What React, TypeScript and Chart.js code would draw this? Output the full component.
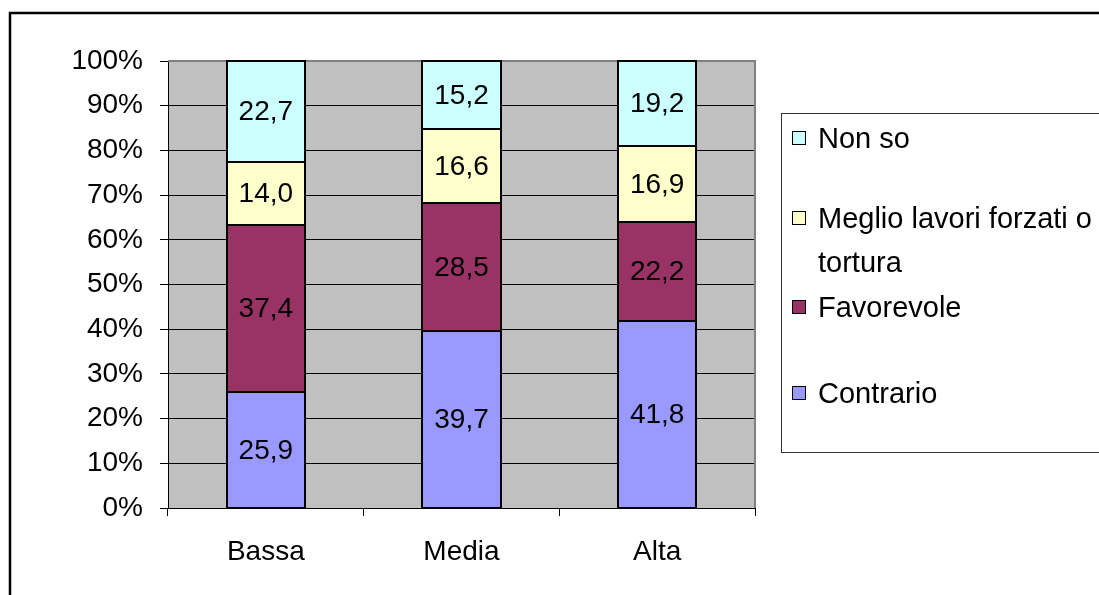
import React, { useEffect, useRef } from "react";
import { Chart, registerables } from "chart.js";

Chart.register(...registerables);

// Categories and series (percent shares per group)
const categories = ["Bassa", "Media", "Alta"];
const seriesLabels = ["Contrario", "Favorevole", "Meglio lavori forzati o tortura", "Non so"];
const contrario = [25.9, 39.7, 41.8];
const favorevole = [37.4, 28.5, 22.2];
const meglio = [14.0, 16.6, 16.9];
const nonSo = [22.7, 15.2, 19.2];
const seriesColors = ["#9999FF", "#993366", "#FFFFCC", "#CCFFFF"];
const yTicks = [0, 10, 20, 30, 40, 50, 60, 70, 80, 90, 100];

const FONT_FAMILY = '"Liberation Sans", Arial, sans-serif';
const FONT_SIZE = 28;
const LEGEND_FONT_SIZE = 29;

// Gray plot background with a gray frame on the top and right edges
const plotBackground = {
  id: "plotBackground",
  beforeDraw(chart: any) {
    const { ctx, chartArea: a } = chart;
    ctx.save();
    ctx.fillStyle = "#C0C0C0";
    ctx.fillRect(a.left, a.top, a.right - a.left, a.bottom - a.top);
    ctx.restore();
  },
  beforeDatasetsDraw(chart: any) {
    const { ctx, chartArea: a } = chart;
    ctx.save();
    ctx.strokeStyle = "#808080";
    ctx.lineWidth = 2;
    ctx.beginPath();
    ctx.moveTo(a.left, a.top);
    ctx.lineTo(a.right, a.top);
    ctx.lineTo(a.right, a.bottom);
    ctx.stroke();
    ctx.restore();
  },
};

// Black outlines around each segment, then value labels centred in it
const segmentLabels = {
  id: "segmentLabels",
  afterDatasetsDraw(chart: any) {
    const { ctx, chartArea: a } = chart;
    ctx.save();
    ctx.strokeStyle = "#000";
    ctx.lineWidth = 2;
    chart.data.datasets.forEach((_ds: any, di: number) => {
      const meta = chart.getDatasetMeta(di);
      meta.data.forEach((bar: any) => {
        const top = Math.max(bar.y, a.top);
        const left = Math.round(bar.x - bar.width / 2);
        const right = Math.round(bar.x + bar.width / 2);
        ctx.strokeRect(left, Math.round(top), right - left, Math.round(bar.base) - Math.round(top));
      });
    });

    ctx.font = `${FONT_SIZE}px ${FONT_FAMILY}`;
    ctx.fillStyle = "#000";
    ctx.textAlign = "center";
    ctx.textBaseline = "middle";
    chart.data.datasets.forEach((ds: any, di: number) => {
      const meta = chart.getDatasetMeta(di);
      meta.data.forEach((bar: any, i: number) => {
        const v = ds.data[i] as number;
        const top = Math.max(bar.y, a.top);
        const cy = (top + bar.base) / 2;
        ctx.fillText(v.toFixed(1).replace(".", ","), bar.x, cy + 1);
      });
    });
    ctx.restore();
  },
};

// Outer frame and legend box on the right
const frameAndLegend = {
  id: "frameAndLegend",
  afterDraw(chart: any) {
    const { ctx } = chart;
    ctx.save();
    ctx.strokeStyle = "#000";
    ctx.lineWidth = 2.5;
    ctx.strokeRect(10, 13, 1200, 700);

    ctx.lineWidth = 1;
    ctx.strokeStyle = "#333";
    ctx.strokeRect(781.5, 113.5, 400, 339);

    ctx.font = `${LEGEND_FONT_SIZE}px ${FONT_FAMILY}`;
    ctx.textAlign = "left";
    ctx.textBaseline = "alphabetic";
    const baselines = [148, 228, 317, 403];
    const order = [3, 2, 1, 0];
    const maxWidth = 1099 - 818;
    order.forEach((di, k) => {
      const ds = chart.data.datasets[di];
      const base = baselines[k];
      ctx.fillStyle = ds.backgroundColor;
      ctx.fillRect(792.5, base - 16.5, 13, 13);
      ctx.strokeStyle = "#000";
      ctx.strokeRect(792.5, base - 16.5, 13, 13);
      // simple word wrap
      const words = String(ds.label).split(" ");
      const lines: string[] = [];
      let cur = "";
      words.forEach((w) => {
        const test = cur ? cur + " " + w : w;
        if (ctx.measureText(test).width > maxWidth && cur) {
          lines.push(cur);
          cur = w;
        } else cur = test;
      });
      if (cur) lines.push(cur);
      ctx.fillStyle = "#000";
      lines.forEach((ln, li) => ctx.fillText(ln, 818, base + li * 44));
    });
    ctx.restore();
  },
};

export default function App() {
  const ref = useRef<HTMLCanvasElement | null>(null);

  useEffect(() => {
    if (!ref.current) return;
    const values = [contrario, favorevole, meglio, nonSo];
    const chart = new Chart(ref.current, {
      type: "bar",
      data: {
        labels: categories,
        datasets: values.map((d, i) => ({
          label: seriesLabels[i],
          data: d,
          backgroundColor: seriesColors[i],
          borderWidth: 0,
          barPercentage: 1,
          categoryPercentage: 0.4,
        })),
      },
      options: {
        responsive: false,
        animation: false,
        devicePixelRatio: 1,
        layout: { padding: { left: 0, top: 61, right: 344, bottom: 0 } },
        plugins: { legend: { display: false }, tooltip: { enabled: false } },
        scales: {
          x: {
            stacked: true,
            afterFit: (s: any) => {
              s.height = 87;
            },
            grid: {
              drawOnChartArea: false,
              drawTicks: true,
              tickLength: 8,
              color: "#000",
              tickColor: "#000",
            },
            border: { color: "#000", width: 1 },
            ticks: {
              color: "#000",
              padding: 19,
              font: { family: FONT_FAMILY, size: FONT_SIZE },
            },
          },
          y: {
            stacked: true,
            min: 0,
            max: 100,
            afterFit: (s: any) => {
              s.width = 168;
            },
            afterBuildTicks: (s: any) => {
              s.ticks = yTicks.map((v) => ({ value: v }));
            },
            grid: {
              color: (c: any) => (c.tick && c.tick.value === 100 ? "#808080" : "#000"),
              tickColor: "#000",
              lineWidth: 1,
              tickLength: 8,
            },
            border: { color: "#000", width: 1 },
            ticks: {
              color: "#000",
              padding: 17,
              font: { family: FONT_FAMILY, size: FONT_SIZE },
              callback: (v: any) => `${v}%`,
            },
          },
        },
      },
      plugins: [plotBackground, segmentLabels, frameAndLegend],
    });
    return () => chart.destroy();
  }, []);

  return (
    <div style={{ position: "absolute", left: 0, top: 0, width: 1099, height: 595, background: "#fff" }}>
      <canvas ref={ref} width={1099} height={595} />
    </div>
  );
}
